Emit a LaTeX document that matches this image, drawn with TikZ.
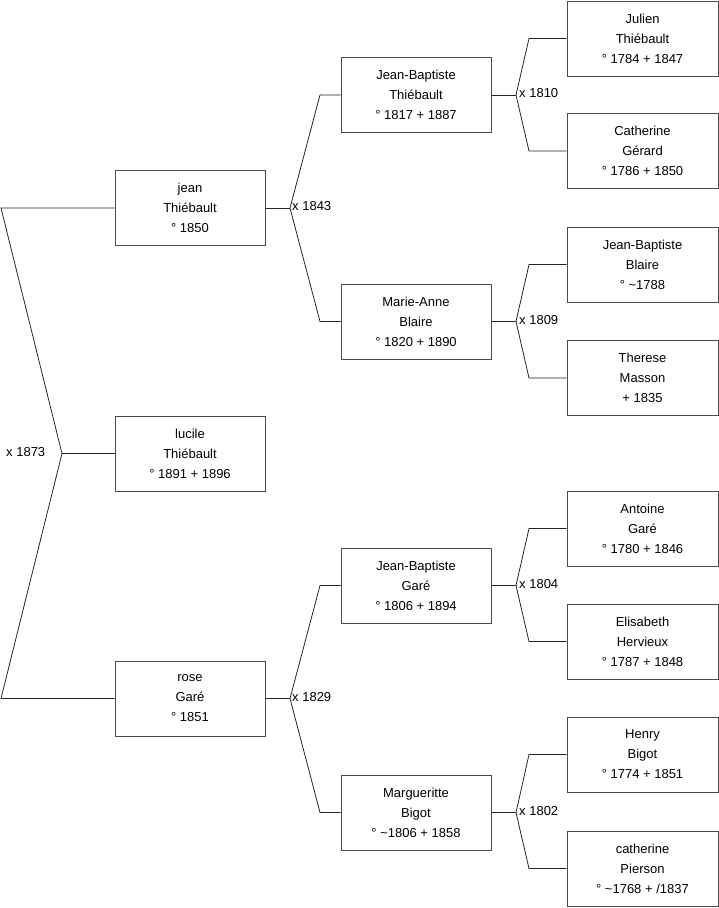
\documentclass[tikz,border=0pt]{standalone}
\usepackage{fontspec}
\setmainfont{Liberation Sans}
\begin{document}
\begin{tikzpicture}[x=1pt,y=-1pt,
  person/.style={draw=black!70, line width=1pt, minimum width=150pt, minimum height=75pt, align=center, font=\fontsize{13}{20}\selectfont, inner sep=0pt, fill=white},
  wide/.style={minimum width=151pt},
  link/.style={draw=black!85, line width=0.8pt},
  lab/.style={font=\fontsize{13}{15}\selectfont, anchor=west, inner sep=0pt, yshift=1.5pt}]
\useasboundingbox (0,0) rectangle (719,908);

% generation 1
\node[person] (jean) at (190,208) {jean\\Thiébault\\° 1850};
\node[person] (lucile) at (190,453.5) {lucile\\Thiébault\\° 1891 + 1896};
\node[person] (rose) at (190,698.5) {rose\\Garé\\° 1851};

% generation 2
\node[person] (jbt) at (416,95) {Jean-Baptiste\\Thiébault\\° 1817 + 1887};
\node[person] (mab) at (416,321.5) {Marie-Anne\\Blaire\\° 1820 + 1890};
\node[person] (jbg) at (416,585.5) {Jean-Baptiste\\Garé\\° 1806 + 1894};
\node[person] (mgb) at (416,812.5) {Margueritte\\Bigot\\° \textasciitilde1806 + 1858};

% generation 3
\node[person,wide] (jul) at (642.5,38.5) {Julien\\Thiébault\\° 1784 + 1847};
\node[person,wide] (cag) at (642.5,151) {Catherine\\Gérard\\° 1786 + 1850};
\node[person,wide] (jbb) at (642.5,264.5) {Jean-Baptiste\\Blaire\\° \textasciitilde1788};
\node[person,wide] (thm) at (642.5,378) {Therese\\Masson\\+ 1835};
\node[person,wide] (ant) at (642.5,528.5) {Antoine\\Garé\\° 1780 + 1846};
\node[person,wide] (elh) at (642.5,641.5) {Elisabeth\\Hervieux\\° 1787 + 1848};
\node[person,wide] (hbg) at (642.5,754.5) {Henry\\Bigot\\° 1774 + 1851};
\node[person,wide] (cap) at (642.5,868.5) {catherine\\Pierson\\° \textasciitilde1768 + /1837};

% marriage 1873
\coordinate (m0) at (62,453.5);
\coordinate (t0) at (1,208);
\coordinate (b0) at (1,698.5);
\draw[link] (jean.west) -- (t0) -- (m0) -- (b0) -- (rose.west);
\draw[link] (m0) -- (lucile.west);
\node[lab] (l0) at (6,453.5) {x 1873};

% marriage 1843
\coordinate (m1) at (290,208);
\coordinate (m1a) at (320,95);
\coordinate (m1b) at (320,321.5);
\draw[link] (jean.east) -- (m1);
\draw[link] (jbt.west) -- (m1a) -- (m1) -- (m1b) -- (mab.west);
\node[lab] (l1) at (292,208) {x 1843};

% marriage 1829
\coordinate (m2) at (290,698.5);
\coordinate (m2a) at (320,585.5);
\coordinate (m2b) at (320,812.5);
\draw[link] (rose.east) -- (m2);
\draw[link] (jbg.west) -- (m2a) -- (m2) -- (m2b) -- (mgb.west);
\node[lab] (l2) at (292,698.5) {x 1829};

% marriage 1810
\coordinate (m3) at (516,95);
\coordinate (m3a) at (529,38.5);
\coordinate (m3b) at (529,151);
\draw[link] (jbt.east) -- (m3);
\draw[link] (jul.west) -- (m3a) -- (m3) -- (m3b) -- (cag.west);
\node[lab] (l3) at (519,95) {x 1810};

% marriage 1809
\coordinate (m4) at (516,321.5);
\coordinate (m4a) at (529,264.5);
\coordinate (m4b) at (529,378);
\draw[link] (mab.east) -- (m4);
\draw[link] (jbb.west) -- (m4a) -- (m4) -- (m4b) -- (thm.west);
\node[lab] (l4) at (519,321.5) {x 1809};

% marriage 1804
\coordinate (m5) at (516,585.5);
\coordinate (m5a) at (529,528.5);
\coordinate (m5b) at (529,641.5);
\draw[link] (jbg.east) -- (m5);
\draw[link] (ant.west) -- (m5a) -- (m5) -- (m5b) -- (elh.west);
\node[lab] (l5) at (519,585.5) {x 1804};

% marriage 1802
\coordinate (m6) at (516,812.5);
\coordinate (m6a) at (529,754.5);
\coordinate (m6b) at (529,868.5);
\draw[link] (mgb.east) -- (m6);
\draw[link] (hbg.west) -- (m6a) -- (m6) -- (m6b) -- (cap.west);
\node[lab] (l6) at (519,812.5) {x 1802};
\end{tikzpicture}
\end{document}
